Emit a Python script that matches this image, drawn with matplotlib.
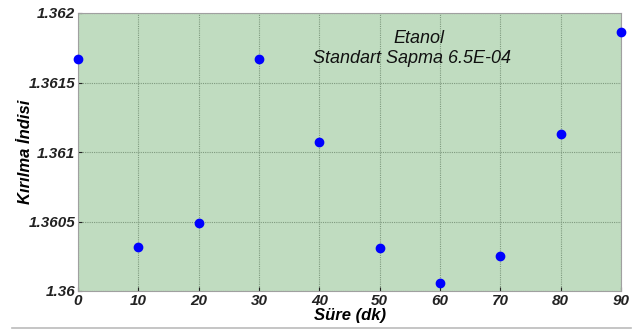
import matplotlib.pyplot as plt
from matplotlib.lines import Line2D

sure = [0, 10, 20, 30, 40, 50, 60, 70, 80, 90]
kirilma = [1.36167, 1.36032, 1.36049, 1.36167, 1.36107, 1.36031, 1.36006, 1.36025, 1.36113, 1.36186]
yticks = [1.36, 1.3605, 1.361, 1.3615, 1.362]
ytick_labels = ['1.36', '1.3605', '1.361', '1.3615', '1.362']

plt.rcParams['font.family'] = ['Liberation Sans', 'DejaVu Sans']

fig = plt.figure(figsize=(6.4, 3.32), dpi=100)
ax = fig.add_axes([78 / 640, 1 - 291 / 332, 543 / 640, 278 / 332])
ax.set_facecolor('#c0dcc0')

ax.plot(sure, kirilma, 'o', color='#0000ff', markersize=6, clip_on=False, zorder=3)

ax.set_xlim(0, 90)
ax.set_ylim(1.36, 1.362)
ax.set_xticks(sure)
ax.set_yticks(yticks)
ax.set_yticklabels(ytick_labels)
for lbl in ax.get_xticklabels() + ax.get_yticklabels():
    lbl.set_fontweight('bold')
    lbl.set_fontstyle('italic')
    lbl.set_fontsize(11)
ax.tick_params(direction='in', length=3, pad=2, colors='#222222')

ax.grid(True, color='#7f9a7f', linestyle=(0, (1, 1)), linewidth=0.8)
for s in ax.spines.values():
    s.set_color('#a0a0a0')

ax.set_xlabel('Süre (dk)', fontsize=12, fontweight='bold', fontstyle='italic', labelpad=0)
ax.set_ylabel('Kırılma İndisi', fontsize=12, fontweight='bold', fontstyle='italic', labelpad=-3)

ax.text(0.628, 0.91, 'Etanol', transform=ax.transAxes, ha='center', va='center',
        fontsize=13, fontstyle='italic', color='#111111')
ax.text(0.616, 0.835, 'Standart Sapma 6.5E-04', transform=ax.transAxes, ha='center', va='center',
        fontsize=13, fontstyle='italic', color='#111111')

fig.add_artist(Line2D([12 / 640, 631 / 640], [4 / 332, 4 / 332], color='#bbbbbb', linewidth=1.2))

fig.savefig('out.png', dpi=100)
